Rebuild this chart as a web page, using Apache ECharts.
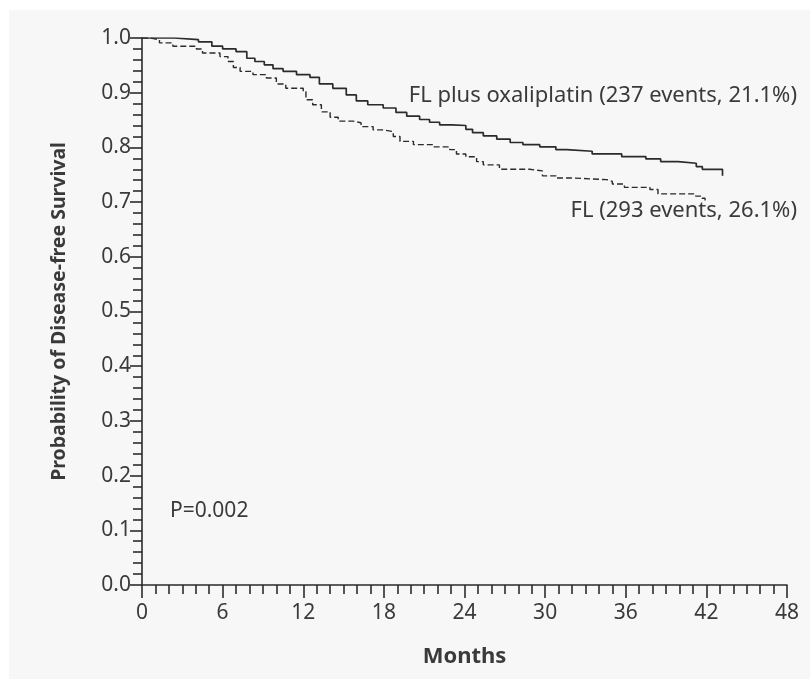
<!DOCTYPE html>
<html>
<head>
<meta charset="utf-8">
<script src="https://cdn.jsdelivr.net/npm/echarts@6/dist/echarts.min.js"></script>
<style>
  html, body { margin: 0; padding: 0; background: #ffffff; overflow: hidden; }
  #panel { position: absolute; left: 9px; top: 10px; width: 801px; height: 669px; background: #f7f7f7; }
  #chart { position: absolute; left: 0; top: 0; width: 810px; height: 679px; }
</style>
</head>
<body>
<div id="panel"></div>
<div id="chart"></div>
<script>
// Kaplan-Meier disease-free survival estimates, months vs. probability
const oxMonths = [0, 2.4, 4.2, 5.2, 6.0, 7.0, 7.8, 8.4, 9.1, 9.75, 10.5, 11.5, 12.5, 13.2, 14.2, 15.2, 15.95, 16.8, 17.95, 18.9, 19.7, 20.66, 21.4, 22.15, 23.1, 24.1, 24.6, 25.4, 26.4, 27.4, 28.35, 29.6, 30.8, 31.6, 33.5, 35.7, 37.5, 38.6, 39.9, 41.25, 41.7, 43.2];
const oxSurv = [1.0, 0.997, 0.993, 0.985, 0.980, 0.975, 0.963, 0.957, 0.951, 0.944, 0.939, 0.933, 0.928, 0.916, 0.908, 0.896, 0.885, 0.878, 0.872, 0.864, 0.857, 0.851, 0.846, 0.841, 0.840, 0.833, 0.827, 0.821, 0.815, 0.809, 0.805, 0.801, 0.796, 0.793, 0.788, 0.783, 0.779, 0.774, 0.771, 0.765, 0.760, 0.748];

const flMonths = [0, 0.6, 1.3, 2.3, 4.05, 4.5, 5.8, 6.4, 6.8, 7.3, 8.26, 9.26, 10.0, 10.7, 12.0, 12.2, 12.7, 13.35, 14.0, 14.6, 15.7, 16.3, 17.2, 17.9, 18.7, 19.2, 20.2, 21.7, 22.9, 23.4, 24.1, 24.9, 25.4, 26.6, 28.85, 29.8, 30.8, 32.1, 34.6, 35.0, 35.9, 37.8, 38.4, 41.2, 41.6, 41.9];
const flSurv = [1.0, 0.997, 0.991, 0.985, 0.980, 0.9725, 0.966, 0.957, 0.946, 0.939, 0.933, 0.927, 0.916, 0.908, 0.902, 0.887, 0.878, 0.865, 0.855, 0.848, 0.845, 0.838, 0.832, 0.829, 0.820, 0.811, 0.805, 0.801, 0.796, 0.788, 0.783, 0.774, 0.768, 0.760, 0.757, 0.748, 0.744, 0.741, 0.738, 0.733, 0.727, 0.723, 0.715, 0.711, 0.707, 0.703];

const oxLabel = 'FL plus oxaliplatin (237 events, 21.1%)';
const flLabel = 'FL (293 events, 26.1%)';
const pLabel = 'P=0.002';
const xName = 'Months';
const yName = 'Probability of Disease-free Survival';

const FONT = '"Noto Sans", "Open Sans", sans-serif';
const INK = '#2b2b2b';
const TEXT = '#3a3a3a';

const pairs = (xs, ys) => xs.map((x, i) => [x, ys[i]]);

const chart = echarts.init(document.getElementById('chart'), null, { renderer: 'canvas' });

chart.setOption({
  backgroundColor: 'transparent',
  animation: false,
  grid: { left: 142, top: 38, right: 23, bottom: 94, containLabel: false },
  xAxis: {
    type: 'value',
    min: 0, max: 48, interval: 6,
    name: xName,
    nameLocation: 'middle',
    nameGap: 61,
    nameTextStyle: { fontFamily: FONT, fontSize: 22, fontWeight: 'bold', color: TEXT },
    axisLine: { show: true, onZero: false, lineStyle: { color: INK, width: 1.6 } },
    axisTick: { show: true, inside: false, length: 13, lineStyle: { color: INK, width: 1.6 } },
    minorTick: { show: true, splitNumber: 6, length: 9, lineStyle: { color: INK, width: 1.6 } },
    splitLine: { show: false },
    axisLabel: { margin: 18, fontFamily: FONT, fontSize: 21, color: TEXT }
  },
  yAxis: {
    type: 'value',
    min: 0, max: 1, interval: 0.1,
    name: yName,
    nameLocation: 'middle',
    nameGap: 73,
    nameRotate: 90,
    nameTextStyle: { fontFamily: FONT, fontSize: 19.5, fontWeight: 'bold', color: TEXT },
    axisLine: { show: true, onZero: false, lineStyle: { color: INK, width: 1.6 } },
    axisTick: { show: true, inside: false, length: 12, lineStyle: { color: INK, width: 1.6 } },
    minorTick: { show: true, splitNumber: 5, length: 9, lineStyle: { color: INK, width: 1.6 } },
    splitLine: { show: false },
    axisLabel: { margin: 11, fontFamily: FONT, fontSize: 21, color: TEXT, formatter: v => v.toFixed(1) }
  },
  series: [
    {
      name: oxLabel,
      type: 'line',
      step: 'end',
      showSymbol: false,
      symbol: 'none',
      data: pairs(oxMonths, oxSurv),
      lineStyle: { color: INK, width: 1.7, type: 'solid' },
      z: 3
    },
    {
      name: flLabel,
      type: 'line',
      step: 'end',
      showSymbol: false,
      symbol: 'none',
      data: pairs(flMonths, flSurv),
      lineStyle: { color: INK, width: 1.4, type: [6, 3] },
      z: 3
    }
  ],
  graphic: [
    { type: 'text', right: 13, top: 85, style: { text: oxLabel, font: '22px ' + FONT, fill: TEXT } },
    { type: 'text', right: 13, top: 200, style: { text: flLabel, font: '22px ' + FONT, fill: TEXT } },
    { type: 'text', left: 170, top: 501, style: { text: pLabel, font: '21px ' + FONT, fill: TEXT } }
  ]
});
</script>
</body>
</html>
